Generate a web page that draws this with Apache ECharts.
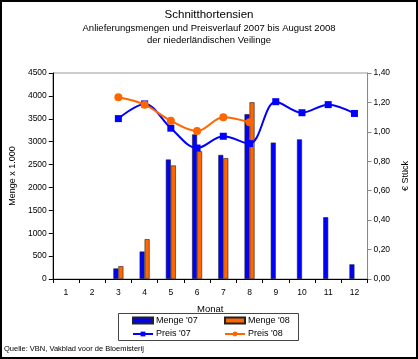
<!DOCTYPE html>
<html><head><meta charset="utf-8">
<script src="https://cdn.jsdelivr.net/npm/echarts@6/dist/echarts.min.js"></script>
<style>html,body{margin:0;padding:0;background:#fff}#c{width:418px;height:359px}</style>
</head><body><div id="c"></div>
<script>
const months = ['1','2','3','4','5','6','7','8','9','10','11','12'];
const menge07 = [null, null, 230, 600, 2610, 3160, 2710, 3600, 2980, 3050, 1350, 320];
const menge08 = [null, null, 280, 870, 2480, 2790, 2640, 3860, null, null, null, null];
const preis07 = [null, null, 1.09, 1.19, 1.025, 0.89, 0.97, 0.92, 1.205, 1.13, 1.185, 1.125];
const preis08 = [null, null, 1.235, 1.185, 1.075, 1.005, 1.10, 1.065, null, null, null, null];
const leftTicks = [0, 4500, 500];
const rightTicks = [0, 1.4, 0.2];

const F = 'Liberation Sans, Arial, sans-serif';
const chart = echarts.init(document.getElementById('c'), null, {renderer:'canvas'});
const ts = (s) => ({fontSize: s, fontWeight: 'normal', color: '#000', fontFamily: F});
const legTS = {fontSize: 9, color: '#000', fontFamily: F, lineHeight: 11, padding: [0,0,0,-2]};
chart.setOption({
  animation: false,
  backgroundColor: '#fff',
  textStyle: {fontFamily: F},
  title: [
    {text: 'Schnitthortensien', left: 'center', top: 4, textStyle: ts(11.5)},
    {text: 'Anlieferungsmengen und Preisverlauf 2007 bis August 2008', left: 'center', top: 18.5, textStyle: ts(9.5)},
    {text: 'der niederländischen Veilinge', left: 'center', top: 30, textStyle: ts(9.5)}
  ],
  grid: {left: 51, right: 48, top: 73, bottom: 80, show: true, borderColor: '#999', borderWidth: 1},
  legend: [
    {data: [{name: "Menge '07", icon: 'rect'}, {name: "Preis '07"}], orient: 'vertical', left: 132, top: 315, itemWidth: 20, itemHeight: 6, itemGap: 2.5,
     padding: 0, textStyle: legTS, selectedMode: false},
    {data: [{name: "Menge '08", icon: 'rect'}, {name: "Preis '08"}], orient: 'vertical', left: 224, top: 315, itemWidth: 20, itemHeight: 6, itemGap: 2.5,
     padding: 0, textStyle: legTS, selectedMode: false}
  ],
  graphic: [
    {type: 'rect', shape: {x: 118.5, y: 313.5, width: 180, height: 27}, style: {fill: 'none', stroke: '#444', lineWidth: 1}, z: -1},
    {type: 'rect', shape: {x: 1, y: 1, width: 416, height: 357}, style: {fill: 'none', stroke: '#000', lineWidth: 2}, z: 100},
    {type: 'text', left: 4, top: 345, style: {text: 'Quelle: VBN, Vakblad voor de Bloemisterij', fontSize: 7.5, fill: '#000', font: '7.5px ' + F}}
  ],
  xAxis: {
    type: 'category', data: months, boundaryGap: true,
    name: 'Monat', nameLocation: 'middle', nameGap: 25, nameTextStyle: {fontSize: 9.5, color: '#000'},
    axisLine: {lineStyle: {color: '#000', width: 1}},
    axisTick: {show: true, length: 4, inside: false, lineStyle: {color: '#000'}},
    axisLabel: {fontSize: 8.5, color: '#000', margin: 9}
  },
  yAxis: [
    {type: 'value', min: leftTicks[0], max: leftTicks[1], interval: leftTicks[2],
     name: 'Menge x 1.000', nameLocation: 'middle', nameGap: 34, nameRotate: 90, nameTextStyle: {fontSize: 9, color: '#000'},
     axisLine: {show: true, lineStyle: {color: '#000'}}, axisTick: {show: true, length: 4, lineStyle: {color: '#000'}},
     axisLabel: {fontSize: 8.5, color: '#000', margin: 6, formatter: v => String(v)}, splitLine: {show: false}},
    {type: 'value', min: rightTicks[0], max: rightTicks[1], interval: rightTicks[2], position: 'right',
     name: '€ Stück', nameLocation: 'middle', nameGap: 33, nameRotate: 90, nameTextStyle: {fontSize: 9, color: '#000'},
     axisLine: {show: true, lineStyle: {color: '#888'}}, axisTick: {show: true, length: 4, lineStyle: {color: '#888'}},
     axisLabel: {fontSize: 8.5, color: '#000', margin: 6, formatter: v => v.toFixed(2).replace('.', ',')}, splitLine: {show: false}}
  ],
  series: [
    {name: "Menge '07", type: 'bar', data: menge07, barWidth: 5, barGap: '0%',
     itemStyle: {color: '#0000ff', borderColor: '#222', borderWidth: 0.6}},
    {name: "Menge '08", type: 'bar', data: menge08, barWidth: 5, barGap: '0%',
     itemStyle: {color: '#ff6600', borderColor: '#222', borderWidth: 0.6}},
    {name: "Preis '07", type: 'line', yAxisIndex: 1, data: preis07, smooth: 0.35, symbol: 'rect', symbolSize: 7,
     lineStyle: {color: '#0000ff', width: 2}, itemStyle: {color: '#0000ff'}, z: 5},
    {name: "Preis '08", type: 'line', yAxisIndex: 1, data: preis08, smooth: 0.35, symbol: 'circle', symbolSize: 8,
     lineStyle: {color: '#ff6600', width: 2}, itemStyle: {color: '#ff6600'}, z: 6}
  ]
});
</script></body></html>
